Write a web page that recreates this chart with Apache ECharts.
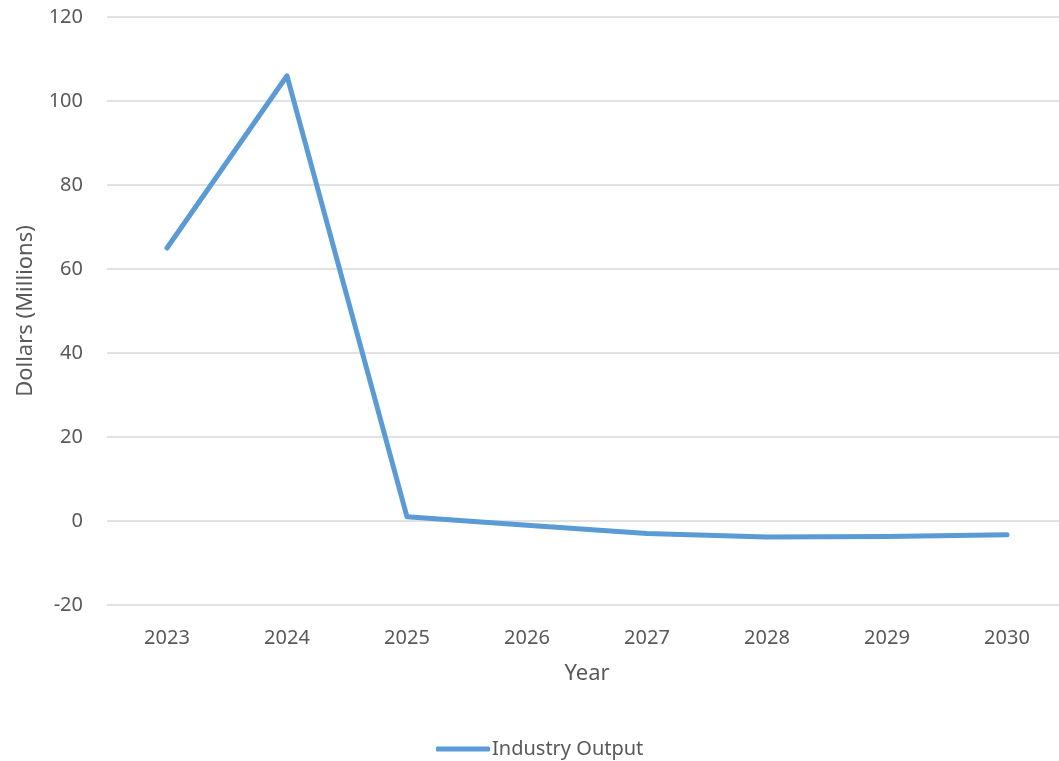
<!DOCTYPE html>
<html>
<head>
<meta charset="utf-8">
<script src="https://cdn.jsdelivr.net/npm/echarts@6/dist/echarts.min.js"></script>
<style>
  html, body { margin: 0; padding: 0; background: #fff; }
  #chart { width: 1059px; height: 761px; }
</style>
</head>
<body>
<div id="chart"></div>
<script>
// Industry output by year, in millions of dollars
const years = ['2023', '2024', '2025', '2026', '2027', '2028', '2029', '2030'];
const industryOutput = [65, 106, 1, -1, -3, -3.8, -3.7, -3.3];
const seriesName = 'Industry Output';

const FONT = 'Noto Sans';
const TEXT = '#595959';
const BLUE = '#5b9bd5';

const chart = echarts.init(document.getElementById('chart'), null, { renderer: 'canvas' });
chart.setOption({
  animation: false,
  backgroundColor: '#ffffff',
  textStyle: { fontFamily: FONT, color: TEXT },
  grid: { left: 107, top: 17, width: 960, bottom: 156, containLabel: false, outerBoundsMode: 'none' },
  legend: {
    left: 431,
    top: 734,
    icon: 'roundRect',
    itemWidth: 54,
    itemHeight: 5,
    itemGap: 10,
    data: [{ name: seriesName, itemStyle: { color: BLUE } }],
    textStyle: { fontFamily: FONT, fontSize: 20, color: TEXT, padding: [0, 0, 0, -3] }
  },
  xAxis: {
    type: 'category',
    data: years,
    boundaryGap: true,
    name: 'Year',
    nameLocation: 'middle',
    nameGap: 58,
    nameTextStyle: { fontFamily: FONT, fontSize: 22, color: TEXT },
    axisLine: { show: false },
    axisTick: { show: false },
    axisLabel: { fontFamily: FONT, fontSize: 20, color: TEXT, margin: 23 }
  },
  yAxis: {
    type: 'value',
    min: -20,
    max: 120,
    interval: 20,
    name: 'Dollars (Millions)',
    nameLocation: 'middle',
    nameGap: 70,
    nameTextStyle: { fontFamily: FONT, fontSize: 22, color: TEXT },
    axisLine: { show: false },
    axisTick: { show: false },
    axisLabel: { fontFamily: FONT, fontSize: 20, color: TEXT, margin: 24 },
    splitLine: { lineStyle: { color: '#d9d9d9', width: 1.5 } }
  },
  series: [{
    name: seriesName,
    type: 'line',
    data: industryOutput,
    symbol: 'none',
    lineStyle: { color: BLUE, width: 5, cap: 'round', join: 'round' },
    itemStyle: { color: BLUE }
  }]
});
</script>
</body>
</html>
